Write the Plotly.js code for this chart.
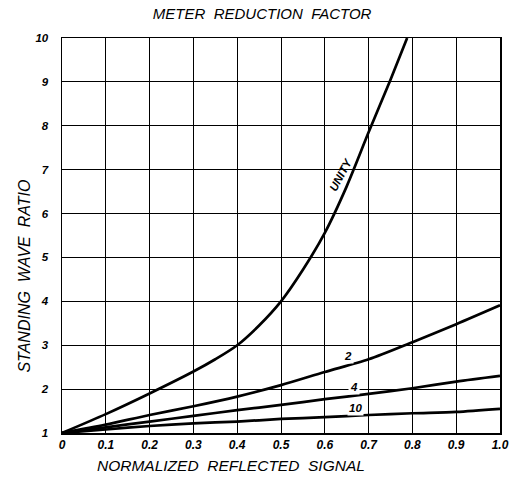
<!DOCTYPE html>
<html>
<head>
<meta charset="utf-8">
<script src="https://cdn.plot.ly/plotly-3.0.1.min.js"></script>
<style>html,body{margin:0;padding:0;background:#fff;}#chart{width:516px;height:477px;}</style>
</head>
<body>
<div id="chart"></div>
<script>
// Normalized reflected signal (x) and standing wave ratio (y) per meter reduction factor
var unityX = [0, 0.1, 0.2, 0.3, 0.35, 0.4, 0.45, 0.5, 0.55, 0.6, 0.65, 0.7, 0.75, 0.788];
var unityY = [1, 1.43, 1.9, 2.4, 2.68, 3.0, 3.45, 4.0, 4.72, 5.56, 6.62, 7.85, 9.05, 10.0];
var factor2X = [0, 0.1, 0.2, 0.3, 0.4, 0.5, 0.6, 0.7, 0.8, 0.9, 1.0];
var factor2Y = [1, 1.19, 1.41, 1.61, 1.83, 2.09, 2.39, 2.68, 3.07, 3.48, 3.91];
var factor4X = [0, 0.1, 0.2, 0.3, 0.4, 0.5, 0.6, 0.7, 0.8, 0.9, 1.0];
var factor4Y = [1, 1.13, 1.26, 1.39, 1.52, 1.64, 1.77, 1.89, 2.02, 2.17, 2.3];
var factor10X = [0, 0.1, 0.2, 0.3, 0.4, 0.5, 0.6, 0.7, 0.8, 0.9, 1.0];
var factor10Y = [1, 1.08, 1.16, 1.22, 1.26, 1.32, 1.36, 1.41, 1.45, 1.48, 1.55];
var xTickVals = [0, 0.1, 0.2, 0.3, 0.4, 0.5, 0.6, 0.7, 0.8, 0.9, 1.0];
var xTickText = ["0", "0.1", "0.2", "0.3", "0.4", "0.5", "0.6", "0.7", "0.8", "0.9", "1.0"];
var yTickVals = [1, 2, 3, 4, 5, 6, 7, 8, 9, 10];
var yTickText = ["1", "2", "3", "4", "5", "6", "7", "8", "9", "10"];
var curveLabels = ["UNITY", "2", "4", "10"];
var labelX = [0.636, 0.653, 0.667, 0.67];
var labelY = [6.88, 2.75, 2.05, 1.57];

var lineStyle = {color: "#000", width: 2.7, shape: "spline", smoothing: 0.8};
function trace(x, y, name) {
  return {x: x, y: y, name: name, type: "scatter", mode: "lines", line: lineStyle, hoverinfo: "skip"};
}
var data = [
  trace(unityX, unityY, "UNITY"),
  trace(factor2X, factor2Y, "2"),
  trace(factor4X, factor4Y, "4"),
  trace(factor10X, factor10Y, "10")
];

var NB = "\u00A0";
var fontBase = {family: "Liberation Sans, Arial, sans-serif", color: "#000", style: "italic"};
var annotations = curveLabels.map(function (t, i) {
  return {
    x: labelX[i], y: labelY[i], xref: "x", yref: "y", text: t, showarrow: false,
    textangle: i === 0 ? -62 : 0,
    bgcolor: i === 0 ? "rgba(0,0,0,0)" : "#fff",
    font: Object.assign({}, fontBase, {size: 11.5, weight: "bold"})
  };
});
// axis titles placed as in the reference (off-centre)
annotations.push({
  xref: "paper", yref: "paper", x: -0.085, xanchor: "center", y: 0.398, yanchor: "middle",
  text: "STANDING" + NB + NB + "WAVE" + NB + NB + "RATIO", textangle: -90, showarrow: false,
  font: Object.assign({}, fontBase, {size: 16})
});
annotations.push({
  xref: "paper", yref: "paper", x: 0.385, xanchor: "center", y: -0.083, yanchor: "middle",
  text: "NORMALIZED" + NB + NB + "REFLECTED" + NB + NB + "SIGNAL", showarrow: false,
  font: Object.assign({}, fontBase, {size: 15.5})
});

var layout = {
  width: 516, height: 477,
  margin: {l: 62, r: 16, t: 38, b: 44},
  paper_bgcolor: "#fff", plot_bgcolor: "#fff",
  showlegend: false,
  title: {text: "METER" + NB + NB + "REDUCTION" + NB + NB + "FACTOR", x: 0.508, xanchor: "center", y: 0.972, yanchor: "middle",
          font: Object.assign({}, fontBase, {size: 15})},
  xaxis: {
    range: [0, 1.0], tickvals: xTickVals, ticktext: xTickText, ticks: "",
    showgrid: true, gridcolor: "#000", gridwidth: 1,
    zeroline: false, showline: true, linecolor: "#000", linewidth: 1.5, mirror: true,
    tickfont: Object.assign({}, fontBase, {size: 12, weight: "bold"}),
    fixedrange: true
  },
  yaxis: {
    range: [1, 10], tickvals: yTickVals, ticktext: yTickText, ticks: "",
    showgrid: true, gridcolor: "#000", gridwidth: 1,
    zeroline: false, showline: true, linecolor: "#000", linewidth: 1.5, mirror: true,
    ticklabelstandoff: 10,
    tickfont: Object.assign({}, fontBase, {size: 11.5, weight: "bold"}),
    fixedrange: true
  },
  annotations: annotations
};

Plotly.newPlot("chart", data, layout, {displayModeBar: false, staticPlot: true});
</script>
</body>
</html>
